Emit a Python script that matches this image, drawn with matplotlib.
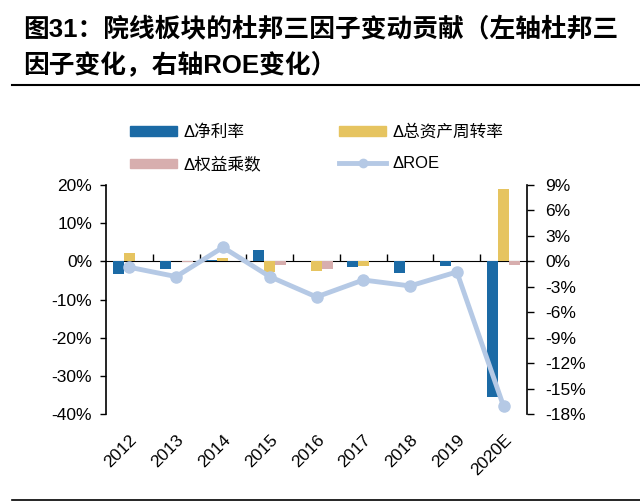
import matplotlib
matplotlib.use("Agg")
import matplotlib.pyplot as plt
import numpy as np
from matplotlib.lines import Line2D
from matplotlib.patches import Patch
from matplotlib.ticker import FuncFormatter

plt.rcParams['font.family'] = ['Liberation Sans', 'Noto Sans CJK SC', 'DejaVu Sans']

years = ['2012', '2013', '2014', '2015', '2016', '2017', '2018', '2019', '2020E']
net_margin = [-3.4, -2.1, 0.4, 3.0, 0.0, -1.5, -3.0, -1.3, -35.6]
asset_turnover = [2.2, 0.0, 1.0, -2.8, -2.5, -1.1, 0.0, 0.0, 19.0]
equity_mult = [0.0, -0.2, 0.0, -0.9, -2.1, 0.0, 0.0, 0.0, -0.9]
roe = [-0.7, -1.8, 1.65, -1.8, -4.2, -2.2, -2.9, -1.25, -17.1]

c_blue = '#1B6AA5'
c_yellow = '#E6C460'
c_pink = '#D7AEAE'
c_roe = '#B5C9E5'

fig = plt.figure(figsize=(6.4, 5.03), dpi=100)
ax = fig.add_axes([106/640, 1-414/503, (527-106)/640, (414-185)/503])
x = np.arange(len(years))
w = 0.235
ax.bar(x - w, net_margin, w, color=c_blue, zorder=2)
ax.bar(x, asset_turnover, w, color=c_yellow, zorder=2)
ax.bar(x + w, equity_mult, w, color=c_pink, zorder=2)

ax.set_ylim(-40, 20)
ax.set_xlim(-0.5, len(years) - 0.5)
ax.set_yticks(np.arange(-40, 21, 10))
ax.yaxis.set_major_formatter(FuncFormatter(lambda v, p: f'{v:.0f}%'))
ax.tick_params(axis='y', direction='out', length=4, width=1, labelsize=12.5, pad=6)
ax.set_xticks(x)
ax.set_xticklabels(years, rotation=45, ha='right', rotation_mode='anchor', fontsize=12.5)
ax.tick_params(axis='x', length=0, pad=13)
for s in ['top', 'right', 'bottom']:
    ax.spines[s].set_visible(False)
ax.spines['left'].set_linewidth(1.2)

# zero axis line with boundary ticks
sec = ax.secondary_xaxis(40/60)
sec.set_xticks(np.arange(0.5, len(years) - 0.5, 1.0))
sec.set_xticklabels([])
sec.tick_params(direction='out', length=5, width=1)
sec.spines['bottom'].set_linewidth(1.4)

ax2 = ax.twinx()
ax2.plot(x, roe, color=c_roe, lw=3.5, marker='o', ms=8, zorder=3)
ax2.set_ylim(-18, 9)
ax2.set_yticks(np.arange(-18, 10, 3))
ax2.yaxis.set_major_formatter(FuncFormatter(lambda v, p: f'{v:.0f}%'))
ax2.tick_params(axis='y', direction='out', length=5, width=1, labelsize=12.5, pad=8)
for s in ['top', 'left', 'bottom']:
    ax2.spines[s].set_visible(False)
ax2.spines['right'].set_linewidth(1.2)

handles = [Patch(color=c_blue), Patch(color=c_pink), Patch(color=c_yellow),
           Line2D([0], [0], color=c_roe, lw=3.5, marker='o', ms=6)]
labels = ['Δ净利率', 'Δ权益乘数', 'Δ总资产周转率', 'ΔROE']
fig.legend(handles, labels, ncol=2, loc='upper left', bbox_to_anchor=(115/640, 1-109/503),
           frameon=False, fontsize=12, handlelength=2.8, handleheight=0.5,
           columnspacing=4.7, labelspacing=1.0, handletextpad=0.4)

fig.text(23/640, 1-47/503, '图31：院线板块的杜邦三因子变动贡献（左轴杜邦三\n因子变化，右轴ROE变化）',
         fontsize=18.5, fontweight='bold', va='center', ha='left', linespacing=1.5,
         transform=fig.transFigure)
fig.add_artist(Line2D([12/640, 1.0], [1-85/503, 1-85/503], color='black', lw=1.5,
                      transform=fig.transFigure))
fig.add_artist(Line2D([12/640, 1.0], [1-500/503, 1-500/503], color='black', lw=1.2,
                      transform=fig.transFigure))

fig.savefig('out.png', dpi=100)
